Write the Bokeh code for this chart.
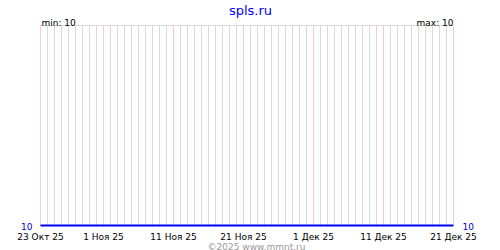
from datetime import date
from bokeh.plotting import figure
from bokeh.models import Range1d, Label
from bokeh.core.properties import value
from bokeh.embed import file_html
from bokeh.resources import INLINE

title = "spls.ru"
start_date = "2025-10-23"
end_date = "2025-12-21"
series_values = [
    10, 10, 10, 10, 10, 10, 10, 10, 10, 10,
    10, 10, 10, 10, 10, 10, 10, 10, 10, 10,
    10, 10, 10, 10, 10, 10, 10, 10, 10, 10,
    10, 10, 10, 10, 10, 10, 10, 10, 10, 10,
    10, 10, 10, 10, 10, 10, 10, 10, 10, 10,
    10, 10, 10, 10, 10, 10, 10, 10, 10, 10,
]
tick_dates = ["2025-10-23", "2025-11-01", "2025-11-11", "2025-11-21",
              "2025-12-01", "2025-12-11", "2025-12-21"]
tick_labels = ["23 Окт 25", "1 Ноя 25", "11 Ноя 25", "21 Ноя 25",
               "1 Дек 25", "11 Дек 25", "21 Дек 25"]
copyright_text = "©2025 www.mmnt.ru"

FONT = "DejaVu Sans"

d0 = date.fromisoformat(start_date)
d1 = date.fromisoformat(end_date)
ndays = (d1 - d0).days


def day(s):
    return (date.fromisoformat(s) - d0).days


vmin = min(series_values)
vmax = max(series_values)


def norm(v):
    return 0.0 if vmax == vmin else (v - vmin) / (vmax - vmin)


W, H = 500, 250
left_px, right_px = 40.0, 453.0
ppd = (right_px - left_px) / ndays
# plot area: 25px from top to 225px from top
bot_px, top_px = 25.0, 225.0  # measured from bottom
ys_per_px = 1.0 / (top_px - bot_px)

p = figure(width=W, height=H, output_backend="svg", toolbar_location=None,
           min_border=0, x_axis_location=None, y_axis_location=None,
           x_range=Range1d(-left_px / ppd, (W - left_px) / ppd),
           y_range=Range1d(-bot_px * ys_per_px, (H - bot_px) * ys_per_px))
p.outline_line_color = None
p.xgrid.visible = False
p.ygrid.visible = False
p.background_fill_color = "white"
p.border_fill_color = "white"

# daily grid lines
all_days = list(range(ndays + 1))
tick_days = [day(s) for s in tick_dates]
grey_days = [d for d in all_days if d not in tick_days]
p.segment(x0=grey_days, y0=[0] * len(grey_days), x1=grey_days, y1=[1] * len(grey_days),
          line_color="#d9d9d9", line_width=1)
p.segment(x0=tick_days, y0=[0] * len(tick_days), x1=tick_days, y1=[1] * len(tick_days),
          line_color="#ffc8c8", line_width=1)
# top border
p.segment(x0=[0], y0=[1], x1=[ndays], y1=[1], line_color="#d9d9d9", line_width=1)

# data line
xs = list(range(len(series_values)))
ys = [norm(v) for v in series_values]
p.line(xs, ys, line_color="#0000ff", line_width=2)

# tick labels
p.text(x=tick_days, y=[0] * len(tick_days), text=tick_labels,
       text_font=value(FONT), text_font_size="9px", text_color="black",
       text_align="center", text_baseline="alphabetic", y_offset=11)

# value labels
p.text(x=[0], y=[norm(series_values[0])], text=[str(series_values[0])],
       text_font=value(FONT), text_font_size="9px", text_color="#0000cc",
       text_align="right", text_baseline="alphabetic", x_offset=-8, y_offset=1)
p.text(x=[len(series_values) - 1], y=[norm(series_values[-1])], text=[str(series_values[-1])],
       text_font=value(FONT), text_font_size="9px", text_color="#0000cc",
       text_align="left", text_baseline="alphabetic", x_offset=9, y_offset=1)

p.add_layout(Label(x=250, y=240, x_units="screen", y_units="screen", text=title,
                   text_font=FONT, text_font_size="13px", text_color="#0000ff",
                   text_align="center", text_baseline="alphabetic"))
p.add_layout(Label(x=41, y=228, x_units="screen", y_units="screen", text=f"min: {vmin}",
                   text_font=FONT, text_font_size="9px", text_color="black",
                   text_align="left", text_baseline="alphabetic"))
p.add_layout(Label(x=453, y=228, x_units="screen", y_units="screen", text=f"max: {vmax}",
                   text_font=FONT, text_font_size="9px", text_color="black",
                   text_align="right", text_baseline="alphabetic"))
p.add_layout(Label(x=256, y=4, x_units="screen", y_units="screen", text=copyright_text,
                   text_font=FONT, text_font_size="9px", text_color="#999999",
                   text_align="center", text_baseline="alphabetic"))

open("out.html", "w").write(file_html(p, INLINE))
